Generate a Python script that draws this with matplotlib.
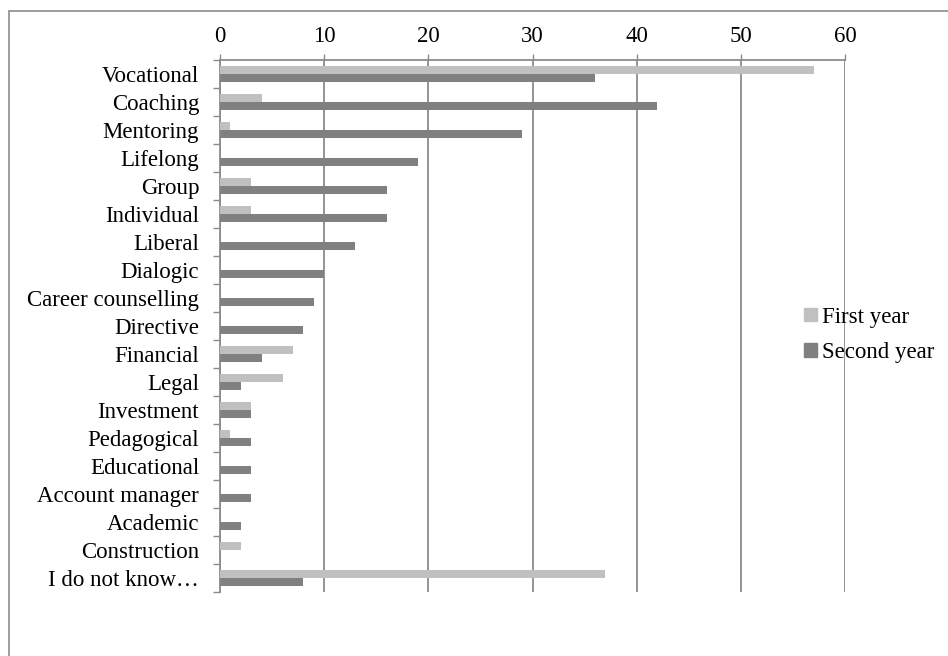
import numpy as np
import matplotlib
matplotlib.use("Agg")
import matplotlib.pyplot as plt
from matplotlib.patches import Patch, Rectangle

categories = ["Vocational", "Coaching", "Mentoring", "Lifelong", "Group", "Individual",
              "Liberal", "Dialogic", "Career counselling", "Directive", "Financial", "Legal",
              "Investment", "Pedagogical", "Educational", "Account manager", "Academic",
              "Construction", "I do not know\u2026"]
first_year = [57, 4, 1, 0, 3, 3, 0, 0, 0, 0, 7, 6, 3, 1, 0, 0, 0, 2, 37]
second_year = [36, 42, 29, 19, 16, 16, 13, 10, 9, 8, 4, 2, 3, 3, 3, 3, 2, 0, 8]
x_ticks = [0, 10, 20, 30, 40, 50, 60]

light = "#c0c0c0"
dark = "#808080"
grid_col = "#8c8c8c"

plt.rcParams["font.family"] = ["Liberation Serif", "DejaVu Serif"]
plt.rcParams["font.size"] = 16.5

W, H = 948, 656
fig = plt.figure(figsize=(W / 100, H / 100), dpi=100)
ax = fig.add_axes([220 / W, 1 - 592 / H, (845 - 220) / W, (592 - 60) / H])

y = np.arange(len(categories))
bh = 0.27
ax.barh(y - bh / 2, first_year, height=bh, color=light, zorder=3)
ax.barh(y + bh / 2, second_year, height=bh, color=dark, zorder=3)

ax.set_xlim(0, 60)
ax.set_ylim(len(categories) - 0.5, -0.5)
ax.xaxis.tick_top()
ax.set_xticks(x_ticks)
ax.tick_params(axis="x", length=4.5, width=1, color=grid_col, pad=4.5, direction="out")
ax.set_yticks(y)
ax.set_yticklabels(categories)
ax.tick_params(axis="y", which="major", length=0, pad=15)
ax.set_yticks(np.arange(len(categories) + 1) - 0.5, minor=True)
ax.tick_params(axis="y", which="minor", length=5, width=1, color=grid_col, direction="out")

ax.grid(axis="x", color=grid_col, linewidth=1.3, zorder=0)
for s in ["right", "bottom"]:
    ax.spines[s].set_visible(False)
for s in ["top", "left"]:
    ax.spines[s].set_color(grid_col)
    ax.spines[s].set_linewidth(1.3)

handles = [Patch(color=light, label="First year"), Patch(color=dark, label="Second year")]
fig.legend(handles=handles, loc="center left", bbox_to_anchor=(804 / W, 1 - 335 / H),
           frameon=False, borderpad=0, borderaxespad=0, handlelength=0.55,
           handleheight=0.55, handletextpad=0.25, labelspacing=0.65)

# outer frame (cropped on right and bottom)
fig.patches.append(Rectangle((8.5 / W, -0.05), 1.0, 1 - 10.5 / H + 0.05, transform=fig.transFigure,
                             fill=False, edgecolor="#8c8c8c", linewidth=1.2))

fig.savefig("out.png", dpi=100)
